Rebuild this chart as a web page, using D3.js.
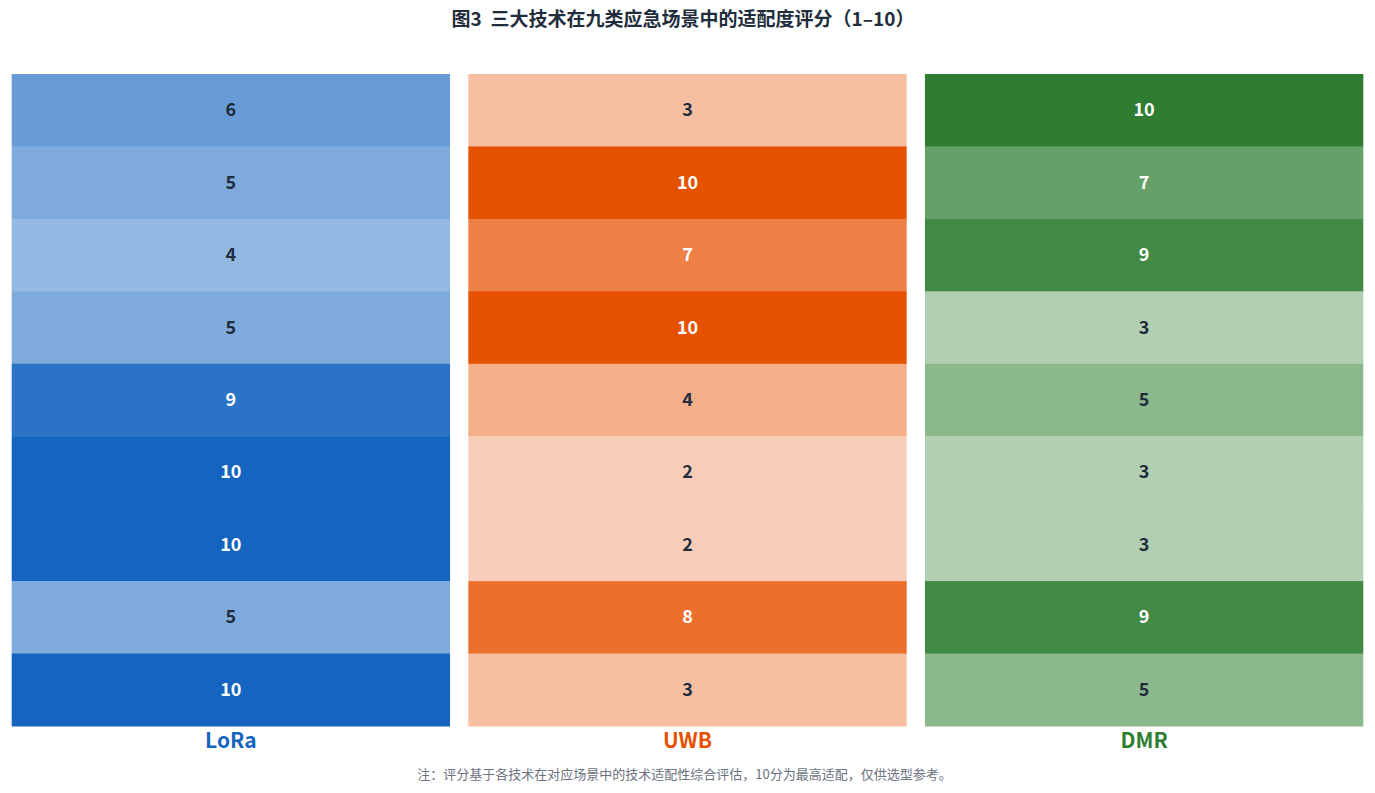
<!DOCTYPE html>
<html><head><meta charset="utf-8">
<script src="https://cdn.jsdelivr.net/npm/d3@7"></script>
<style>
html,body{margin:0;padding:0;background:#fff;}
svg{display:block;font-family:"Noto Sans CJK SC","Noto Sans",sans-serif;}
</style></head>
<body><svg id="chart" width="1375" height="793"></svg>
<script>
const title = "图3\u00A0\u00A0三大技术在九类应急场景中的适配度评分（1–10）";
const note = "注：评分基于各技术在对应场景中的技术适配性综合评估，10分为最高适配，仅供选型参考。";
const technologies = ["LoRa", "UWB", "DMR"];
const scenarios = ["场景1","场景2","场景3","场景4","场景5","场景6","场景7","场景8","场景9"];
const loraScores = [6, 5, 4, 5, 9, 10, 10, 5, 10];
const uwbScores  = [3, 10, 7, 10, 4, 2, 2, 8, 3];
const dmrScores  = [10, 7, 9, 3, 5, 3, 3, 9, 5];
const baseColors = ["#1565C0", "#E65100", "#2E7D32"];

(function () {
const series = [loraScores, uwbScores, dmrScores];
const cells = [];
technologies.forEach((t, i) => series[i].forEach((v, j) => cells.push({tech: t, ti: i, scen: scenarios[j], v})));

const svg = d3.select("#chart");
const mLeft = 11.7, mRight = 1363.3, mTop = 74, mBottom = 726;

const x = d3.scaleBand().domain(technologies).range([mLeft, mRight]).paddingInner(0.04).paddingOuter(0);
const y = d3.scaleBand().domain(scenarios).range([mTop, mBottom]).padding(0);
const alpha = d3.scaleLinear().domain([0, 10]).range([0.1, 1]);

function cellColor(d) {
  return d3.interpolateRgb("#ffffff", baseColors[d.ti])(alpha(d.v));
}

svg.append("text")
  .attr("x", 683).attr("y", 17)
  .attr("text-anchor", "middle").attr("dominant-baseline", "central")
  .attr("font-size", 19).attr("font-weight", 700).attr("fill", "#1f2d3d")
  .text(title);

const g = svg.append("g");
g.selectAll("rect").data(cells).join("rect")
  .attr("x", d => x(d.tech)).attr("y", d => y(d.scen))
  .attr("width", x.bandwidth()).attr("height", y.bandwidth() + 0.5)
  .attr("fill", cellColor);

g.selectAll("text.val").data(cells).join("text")
  .attr("class", "val")
  .attr("x", d => x(d.tech) + x.bandwidth() / 2)
  .attr("y", d => y(d.scen) + y.bandwidth() / 2 - 2)
  .attr("text-anchor", "middle").attr("dominant-baseline", "central")
  .attr("font-size", 18).attr("font-weight", 700)
  .attr("fill", d => d.v >= 7 ? "#ffffff" : "#1f2d3d")
  .text(d => d.v);

svg.append("g").selectAll("text").data(technologies).join("text")
  .attr("x", d => x(d) + x.bandwidth() / 2)
  .attr("y", 739)
  .attr("text-anchor", "middle").attr("dominant-baseline", "central")
  .attr("font-size", 21).attr("font-weight", 700)
  .attr("fill", (d, i) => baseColors[i])
  .text(d => d);

svg.append("text")
  .attr("x", 684.5).attr("y", 773)
  .attr("text-anchor", "middle").attr("dominant-baseline", "central")
  .attr("font-size", 13).attr("fill", "#6b7280")
  .text(note);
})();
</script></body></html>
